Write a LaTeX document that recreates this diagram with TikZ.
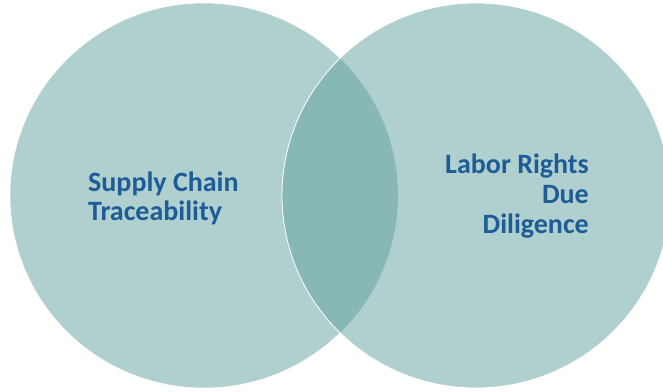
\documentclass[tikz,border=0pt]{standalone}
\usepackage{fontspec}
\setmainfont{Carlito}
\definecolor{setfill}{HTML}{B0D0CF}
\definecolor{lensfill}{HTML}{88B8B5}
\definecolor{labelblue}{HTML}{1E5C96}
\begin{document}
\begin{tikzpicture}[x=1pt,y=-1pt,
  setlabel/.style={font=\fontsize{28}{30}\selectfont\bfseries, text=labelblue, inner sep=0pt}]
\useasboundingbox (0,0) rectangle (663,391);
\def\leftset{(204,195.5) ellipse [x radius=194, y radius=192.5]}
\def\rightset{(476,195.5) ellipse [x radius=194, y radius=192.5]}
\fill[setfill, draw=white, line width=0.5pt] \leftset;
\fill[setfill] \rightset;
\begin{scope}
  \clip \leftset;
  \fill[lensfill] \rightset;
\end{scope}
\draw[white, line width=0.8pt] \rightset;
% labels
\node[setlabel, anchor=base west] (sc1) at (88,191) {Supply Chain};
\node[setlabel, anchor=base west] (sc2) at (88,220) {Traceability};
\node[setlabel, anchor=base east] (lr1) at (589,173) {Labor Rights};
\node[setlabel, anchor=base east] (lr2) at (589,203) {Due};
\node[setlabel, anchor=base east] (lr3) at (589,233) {Diligence};
\end{tikzpicture}
\end{document}
